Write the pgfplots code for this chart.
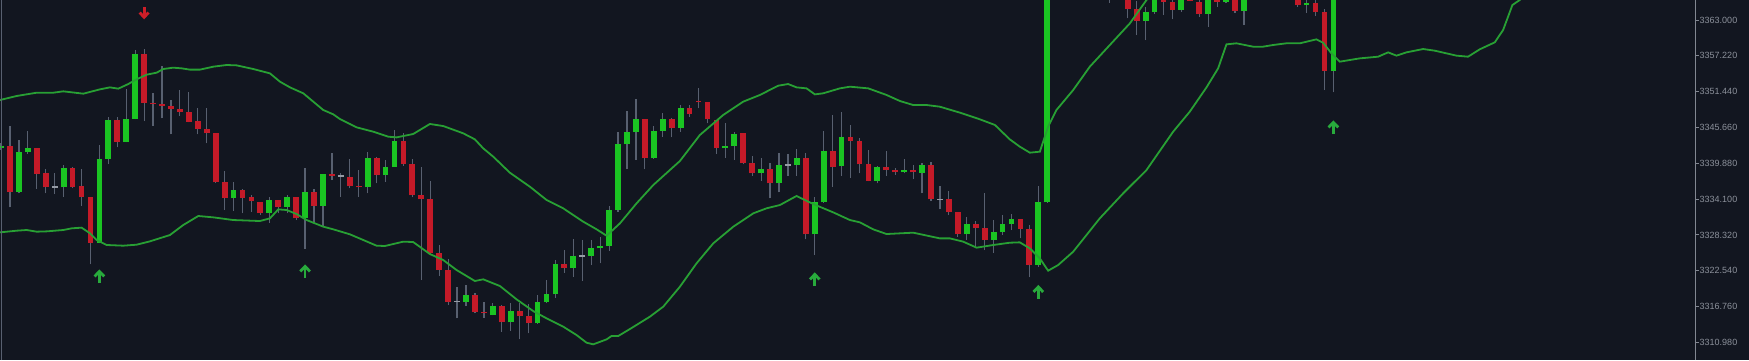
\documentclass[border=0pt]{standalone}
\usepackage{pgfplots}
\pgfplotsset{compat=1.18}
\usepackage{pgfplotstable}
\usepackage{fontspec}
\setmainfont{Liberation Sans}
\definecolor{bgc}{RGB}{18,22,32}
\definecolor{bullc}{RGB}{26,196,34}
\definecolor{bearc}{RGB}{196,26,40}
\definecolor{wickc}{RGB}{88,96,112}
\definecolor{dojic}{RGB}{150,155,165}
\definecolor{bandc}{RGB}{40,160,52}
\definecolor{axc}{RGB}{130,135,145}
\definecolor{labc}{RGB}{140,145,155}
\definecolor{arrg}{RGB}{40,170,60}
\definecolor{arrr}{RGB}{205,30,40}

\pgfdeclareplotmark{uparr}{%
  \pgfsetlinewidth{1.4pt}%
  \pgfpathmoveto{\pgfqpoint{0pt}{-3pt}}%
  \pgfpathlineto{\pgfqpoint{0pt}{2.6pt}}%
  \pgfusepathqstroke
  \pgfpathmoveto{\pgfqpoint{-2.4pt}{0.3pt}}%
  \pgfpathlineto{\pgfqpoint{0pt}{2.8pt}}%
  \pgfpathlineto{\pgfqpoint{2.4pt}{0.3pt}}%
  \pgfusepathqstroke}
\pgfdeclareplotmark{dnarr}{%
  \pgfsetlinewidth{1.4pt}%
  \pgfpathmoveto{\pgfqpoint{0pt}{2.7pt}}%
  \pgfpathlineto{\pgfqpoint{0pt}{-2.3pt}}%
  \pgfusepathqstroke
  \pgfpathmoveto{\pgfqpoint{-2.2pt}{-0.1pt}}%
  \pgfpathlineto{\pgfqpoint{0pt}{-2.5pt}}%
  \pgfpathlineto{\pgfqpoint{2.2pt}{-0.1pt}}%
  \pgfusepathqstroke}

\pgfplotstableread{
i o h l c
0 3342.29 3343.10 3342.02 3342.72
2 3335.30 3343.63 3335.03 3341.75
3 3341.75 3345.09 3341.38 3342.29
7 3336.00 3339.60 3334.49 3339.17
11 3327.06 3342.77 3326.96 3340.57
12 3340.57 3347.40 3339.76 3346.92
14 3343.37 3351.81 3343.26 3347.08
15 3347.08 3358.16 3346.97 3357.51
26 3334.27 3336.80 3332.23 3335.62
30 3331.91 3334.49 3330.29 3333.95
32 3332.87 3334.76 3331.80 3334.44
34 3330.99 3339.17 3326.10 3335.19
36 3333.04 3338.15 3329.75 3338.09
41 3336.00 3341.75 3335.03 3340.78
43 3337.99 3340.41 3336.91 3339.33
44 3339.33 3345.25 3339.30 3343.53
52 3317.54 3320.23 3316.84 3318.62
55 3315.39 3317.38 3315.35 3316.84
57 3314.21 3317.27 3312.86 3316.09
60 3314.05 3318.62 3314.00 3317.54
61 3317.54 3321.04 3317.27 3318.73
62 3318.73 3324.27 3318.19 3323.57
64 3323.03 3327.66 3321.58 3324.91
66 3324.91 3327.50 3323.46 3326.15
67 3326.15 3328.03 3323.73 3326.58
68 3326.53 3332.98 3325.77 3332.34
69 3332.34 3344.87 3332.07 3342.94
70 3342.94 3348.31 3338.95 3344.93
71 3344.93 3350.25 3340.41 3346.97
73 3340.68 3345.89 3340.65 3345.09
74 3345.09 3348.05 3344.17 3346.97
76 3345.62 3349.28 3344.98 3348.75
81 3342.29 3346.32 3340.78 3342.72
82 3342.72 3344.98 3340.41 3344.55
85 3338.25 3340.68 3337.02 3338.90
87 3336.64 3341.48 3335.19 3339.60
89 3339.60 3342.13 3337.88 3340.68
91 3328.41 3334.38 3325.07 3333.57
92 3333.57 3345.09 3333.50 3341.91
94 3339.44 3348.10 3337.88 3344.17
98 3337.02 3339.49 3336.64 3339.33
101 3338.42 3340.57 3338.25 3338.79
103 3338.36 3339.87 3335.03 3339.60
108 3328.41 3331.26 3327.50 3330.08
111 3327.50 3330.72 3325.45 3328.73
112 3328.73 3331.53 3328.30 3330.08
113 3330.08 3331.69 3329.11 3330.88
116 3323.46 3336.21 3323.19 3333.57
117 3333.57 3370.00 3333.50 3369.00
118 3367.00 3371.00 3366.80 3369.50
120 3368.40 3372.00 3367.90 3370.50
121 3370.50 3373.00 3369.80 3371.20
125 3368.00 3370.60 3367.20 3369.50
128 3362.89 3365.15 3359.77 3364.35
129 3364.35 3368.50 3364.00 3367.50
132 3364.62 3368.00 3364.30 3367.00
135 3363.97 3368.00 3361.93 3367.00
137 3365.96 3369.00 3365.70 3368.00
139 3364.51 3368.50 3362.20 3367.50
140 3367.50 3371.00 3367.00 3369.50
141 3369.50 3372.00 3368.60 3370.20
146 3365.42 3366.50 3364.19 3365.69
149 3354.82 3369.00 3351.33 3368.00
}\bull

\pgfplotstableread{
i o h l c
1 3342.72 3345.89 3332.77 3335.30
4 3342.29 3342.40 3335.73 3338.15
5 3338.25 3338.90 3335.03 3336.00
8 3339.17 3339.33 3335.84 3336.10
9 3336.26 3338.90 3333.04 3334.38
10 3334.38 3334.49 3323.57 3327.06
13 3346.92 3347.40 3342.45 3343.37
16 3357.51 3358.32 3346.70 3349.61
17 3349.61 3351.17 3345.95 3349.39
18 3349.39 3355.58 3347.13 3349.07
19 3349.07 3350.09 3344.55 3348.69
20 3348.58 3351.70 3347.56 3348.21
21 3348.21 3351.44 3346.49 3346.59
22 3346.65 3348.75 3344.55 3345.46
23 3345.46 3348.75 3343.10 3344.71
24 3344.71 3344.78 3336.70 3336.80
25 3336.80 3338.69 3332.34 3334.27
27 3335.62 3335.70 3331.80 3334.27
28 3334.38 3334.76 3332.07 3333.74
29 3333.63 3333.70 3331.53 3331.91
31 3333.95 3334.00 3331.80 3332.87
33 3334.44 3334.50 3330.72 3330.99
35 3335.19 3335.67 3330.29 3333.04
37 3338.15 3341.59 3337.18 3337.82
39 3337.72 3340.51 3335.84 3336.21
40 3336.21 3338.79 3334.49 3336.00
42 3340.78 3340.94 3336.64 3337.99
45 3343.53 3344.71 3339.49 3339.76
46 3339.76 3340.51 3334.38 3334.70
47 3334.81 3339.33 3321.04 3334.06
48 3334.06 3337.02 3325.24 3325.34
49 3325.34 3326.69 3321.68 3322.65
50 3322.65 3324.48 3317.00 3317.54
53 3318.62 3318.89 3315.66 3315.93
54 3315.93 3317.54 3314.96 3315.66
56 3316.84 3317.00 3312.70 3314.21
58 3316.09 3317.27 3311.46 3315.28
59 3315.28 3317.17 3312.43 3314.05
63 3323.57 3325.88 3322.22 3323.03
72 3346.97 3347.00 3338.90 3340.68
75 3346.97 3347.13 3344.06 3345.62
77 3348.75 3349.28 3347.40 3347.83
78 3349.93 3352.08 3348.75 3349.71
79 3349.71 3349.75 3346.32 3346.97
80 3346.86 3346.90 3341.38 3342.29
83 3344.71 3344.75 3339.71 3339.87
84 3339.87 3341.05 3337.88 3338.25
86 3338.90 3339.87 3334.22 3336.64
90 3340.68 3341.48 3327.60 3328.41
93 3341.91 3347.67 3336.10 3339.33
95 3344.17 3346.06 3337.56 3343.53
96 3343.53 3343.90 3338.25 3339.71
97 3339.71 3342.02 3336.95 3337.02
99 3339.33 3341.86 3337.88 3338.79
100 3338.79 3339.06 3337.99 3338.42
102 3338.79 3339.60 3337.34 3338.42
104 3339.60 3340.14 3333.79 3334.06
106 3334.06 3335.40 3331.53 3331.96
107 3331.96 3332.00 3328.03 3328.41
109 3330.02 3330.56 3326.42 3329.38
110 3329.49 3335.03 3325.88 3327.50
114 3330.88 3330.90 3327.76 3329.32
115 3329.32 3329.92 3321.47 3323.46
119 3369.50 3370.50 3367.50 3368.40
122 3371.20 3372.20 3369.00 3369.80
123 3369.80 3370.50 3367.80 3368.90
124 3368.90 3370.00 3365.80 3368.00
126 3369.50 3371.00 3363.27 3364.78
127 3364.78 3366.00 3360.58 3362.89
130 3368.00 3369.00 3363.81 3365.96
131 3365.96 3366.50 3363.11 3364.62
133 3367.00 3368.00 3366.00 3366.12
134 3365.96 3366.50 3363.54 3363.97
136 3367.50 3368.50 3365.15 3365.96
138 3368.00 3369.00 3364.19 3364.45
142 3370.20 3371.50 3368.80 3369.20
143 3369.20 3370.20 3368.00 3368.60
144 3368.60 3369.40 3366.60 3367.40
145 3367.50 3368.50 3365.15 3365.42
147 3365.69 3366.30 3363.70 3364.35
148 3364.24 3364.80 3351.70 3354.82
}\bear

\pgfplotstableread{
i v h l
6 3336.05 3338.25 3334.92
38 3337.82 3338.36 3334.49
51 3317.54 3319.96 3314.85
65 3324.91 3327.50 3320.88
88 3339.60 3341.32 3337.88
105 3334.06 3336.26 3332.44
}\doji

\begin{document}
\begin{tikzpicture}
\fill[bgc] (0,0) rectangle (874.5pt,180pt);
\begin{axis}[name=ax, at={(0,0)}, anchor=south west,
  scale only axis, width=847.85pt, height=180pt,
  xmin=-0.118, xmax=189.52, ymin=3308.13, ymax=3366.23,
  axis line style={draw=none}, xtick=\empty,
  ytick={3310.98,3316.76,3322.54,3328.32,3334.10,3339.88,3345.66,3351.44,3357.22,3363.00},
  ytick pos=right, yticklabel pos=right,
  tick align=outside, major tick length=1.4pt,
  tick style={draw=axc, line width=0.5pt},
  /pgf/number format/assume math mode=true,
  yticklabel style={font=\fontsize{4.5pt}{5pt}\selectfont, text=labc, inner sep=0.4pt,
    /pgf/number format/.cd, fixed, fixed zerofill, precision=3, 1000 sep={}},
]
% wicks
\addplot[draw=none, mark=none, error bars/.cd, y dir=plus, y explicit, error mark=none,
  error bar style={draw=wickc, line width=0.6pt}]
  table[x=i, y=l, y error expr=\thisrow{h}-\thisrow{l}] {\bull};
\addplot[draw=none, mark=none, error bars/.cd, y dir=plus, y explicit, error mark=none,
  error bar style={draw=wickc, line width=0.6pt}]
  table[x=i, y=l, y error expr=\thisrow{h}-\thisrow{l}] {\bear};
\addplot[draw=none, mark=none, error bars/.cd, y dir=plus, y explicit, error mark=none,
  error bar style={draw=wickc, line width=0.6pt}]
  table[x=i, y=l, y error expr=\thisrow{h}-\thisrow{l}] {\doji};
% bodies
\addplot[draw=none, mark=none, error bars/.cd, y dir=plus, y explicit, error mark=none,
  error bar style={draw=bullc, line width=2.9pt}]
  table[x=i, y=o, y error expr=\thisrow{c}-\thisrow{o}] {\bull};
\addplot[draw=none, mark=none, error bars/.cd, y dir=plus, y explicit, error mark=none,
  error bar style={draw=bearc, line width=2.9pt}]
  table[x=i, y=c, y error expr=\thisrow{o}-\thisrow{c}] {\bear};
\addplot[draw=none, mark=none, error bars/.cd, x dir=both, x fixed=0.33, error mark=none,
  error bar style={draw=dojic, line width=0.6pt}]
  table[x=i, y=v] {\doji};
% bands
\addplot[bandc, line width=0.9pt, mark=none] coordinates {
(-0.12,3350.09) (1.75,3350.74) (3.98,3351.27) (5.85,3351.27) (6.96,3351.49) (9.20,3351.11)
(11.06,3351.81) (12.18,3352.13) (13.11,3351.92) (14.23,3352.67) (15.16,3353.43) (16.28,3354.18)
(17.40,3354.50) (18.14,3355.09) (19.26,3355.31) (20.19,3355.20) (21.13,3354.99) (22.24,3354.99)
(23.74,3355.47) (25.23,3355.74) (26.35,3355.68) (28.21,3355.09) (30.07,3354.39) (31.19,3353.05)
(32.31,3352.13) (33.80,3351.17) (34.92,3349.82) (36.03,3348.48) (37.15,3347.78) (37.90,3347.02)
(39.02,3346.22) (39.76,3345.68) (41.62,3344.98) (43.30,3344.17) (44.23,3344.06) (46.09,3344.60)
(47.96,3346.22) (49.45,3345.89) (51.69,3344.71) (52.99,3343.74) (53.92,3342.29) (55.04,3340.95)
(56.90,3338.36) (59.14,3336.10) (61.01,3333.95) (62.87,3332.61) (65.11,3330.45) (66.60,3329.22)
(67.72,3328.19) (69.21,3330.18) (71.07,3333.41) (72.94,3336.37) (75.92,3340.25) (78.15,3344.44)
(80.76,3347.67) (82.99,3349.82) (84.86,3350.90) (86.91,3352.40) (88.02,3352.67) (88.96,3352.13)
(90.08,3351.97) (91.01,3351.00) (91.94,3351.17) (93.81,3351.97) (94.93,3352.24) (96.98,3351.97)
(99.03,3350.90) (100.52,3349.93) (102.01,3349.28) (103.50,3349.28) (104.99,3349.01) (107.23,3348.05)
(109.47,3346.97) (111.15,3346.06) (112.81,3343.74) (113.93,3342.56) (115.05,3341.59) (116.17,3341.75)
(117.10,3345.79) (118.03,3348.48) (119.90,3351.70) (121.76,3355.47) (124.00,3358.97) (126.24,3362.46)
(128.10,3366.23) (130.00,3370.10)
};
\addplot[bandc, line width=0.9pt, mark=none] coordinates {
(-0.12,3328.73) (1.75,3329.00) (2.86,3329.11) (3.98,3328.84) (5.10,3328.89) (6.96,3329.11)
(7.90,3329.38) (9.01,3329.49) (9.95,3328.57) (10.69,3327.50) (11.81,3326.69) (13.67,3326.58)
(15.16,3326.74) (16.65,3327.28) (18.89,3328.30) (20.38,3329.92) (22.06,3331.37) (23.74,3331.15)
(25.97,3330.72) (28.95,3330.56) (30.07,3330.99) (31.00,3332.44) (31.93,3332.34) (33.05,3331.69)
(34.17,3330.72) (36.03,3329.65) (37.15,3329.22) (39.02,3328.41) (40.50,3327.50) (41.99,3326.58)
(42.93,3326.53) (44.98,3327.23) (46.09,3327.17) (47.96,3325.23) (49.45,3324.27) (50.94,3322.65)
(52.99,3320.88) (53.92,3321.15) (55.79,3320.07) (57.65,3317.92) (59.51,3316.03) (61.01,3314.85)
(62.87,3313.51) (64.36,3312.16) (65.48,3310.92) (66.23,3310.66) (67.72,3311.46) (68.27,3312.00)
(69.02,3312.00) (70.33,3313.13) (72.56,3315.12) (74.05,3316.73) (75.92,3319.96) (77.78,3323.73)
(79.65,3326.96) (81.89,3329.65) (84.12,3331.80) (85.61,3332.61) (87.10,3333.14) (88.96,3334.60)
(90.83,3333.30) (93.06,3331.96) (94.93,3330.72) (96.04,3330.35) (97.53,3329.22) (99.03,3328.46)
(102.01,3328.68) (104.99,3327.76) (106.11,3327.76) (107.60,3327.23) (109.10,3326.26) (110.96,3326.69)
(112.81,3327.06) (113.93,3327.12) (115.05,3326.15) (116.17,3324.54) (117.10,3322.54) (118.22,3323.46)
(119.90,3325.61) (122.88,3331.00) (125.49,3335.03) (128.10,3338.79) (131.08,3344.98) (132.94,3348.21)
(134.81,3352.13) (136.11,3355.20) (137.04,3359.07) (138.16,3359.24) (140.02,3358.70) (141.14,3358.70)
(142.26,3358.97) (143.75,3359.24) (145.24,3359.24) (147.10,3359.88) (147.85,3359.34) (148.78,3357.62)
(149.72,3356.28) (151.95,3356.81) (154.00,3357.08) (155.12,3357.78) (156.05,3357.25) (157.17,3357.78)
(159.03,3358.32) (160.34,3358.05) (162.76,3357.25) (164.06,3357.08) (165.37,3358.27) (167.05,3359.40)
(167.98,3361.39) (169.02,3365.42) (169.84,3366.23) (171.00,3368.00)
};
% signal arrows
\addplot[only marks, mark=uparr, color=arrg] coordinates {
(11,3321.52) (34,3322.33) (91,3321.04) (116,3319.02) (149,3345.57)};
\addplot[only marks, mark=dnarr, color=arrr] coordinates {(16,3364.24)};
\end{axis}
\draw[axc, line width=0.6pt] (ax.south east) -- (ax.north east);
\draw[wickc, line width=0.5pt] ([xshift=0.8pt]ax.south west) -- ([xshift=0.8pt]ax.north west);
\pgfresetboundingbox
\path[use as bounding box] (0,0) rectangle (874.5pt,180pt);
\end{tikzpicture}
\end{document}
